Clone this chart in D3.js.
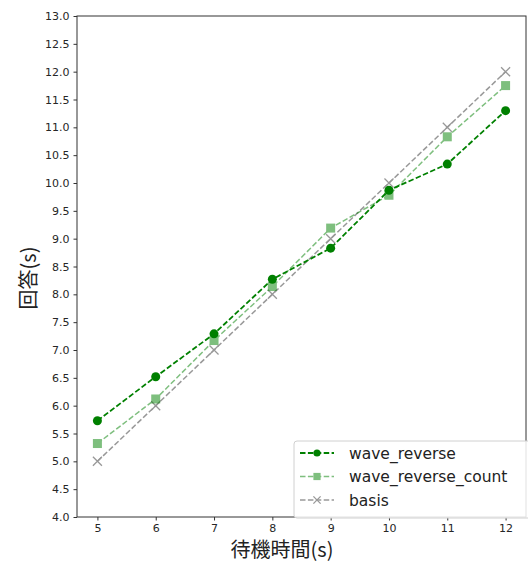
<!DOCTYPE html>
<html>
<head>
<meta charset="utf-8">
<script src="https://cdn.jsdelivr.net/npm/d3@7"></script>
<style>
  body { margin: 0; background: #fff; }
  svg { display: block; }
  .tick text { font-family: "DejaVu Sans", sans-serif; font-size: 11px; fill: #262626; }
  .tick line { stroke: #333; }
</style>
</head>
<body>
<div id="chart"></div>
<script>
// data
var waits = [5, 6, 7, 8, 9, 10, 11, 12];
var waveReverse = [5.73, 6.52, 7.29, 8.27, 8.83, 9.87, 10.34, 11.30];
var waveReverseCount = [5.32, 6.12, 7.17, 8.14, 9.19, 9.78, 10.83, 11.75];
var basis = [5, 6, 7, 8, 9, 10, 11, 12];
var yTicks = [4.0, 4.5, 5.0, 5.5, 6.0, 6.5, 7.0, 7.5, 8.0, 8.5, 9.0, 9.5, 10.0, 10.5, 11.0, 11.5, 12.0, 12.5, 13.0];
var seriesNames = ["wave_reverse", "wave_reverse_count", "basis"];

var width = 528, height = 563;
var plotLeft = 77, plotRight = 526, plotTop = 16, plotBottom = 517;

var svg = d3.select("#chart").append("svg")
    .attr("width", width)
    .attr("height", height);

var x = d3.scaleLinear().domain([4.65, 12.35]).range([plotLeft, plotRight]);
var y = d3.scaleLinear().domain([4, 13]).range([plotBottom, plotTop]);

// axes
svg.append("g")
    .attr("transform", "translate(0," + plotBottom + ")")
    .call(d3.axisBottom(x).tickValues(waits).tickSize(3.5).tickPadding(4).tickFormat(d3.format("d")))
    .call(function(g) { g.select(".domain").remove(); });

svg.append("g")
    .attr("transform", "translate(" + plotLeft + ",0)")
    .call(d3.axisLeft(y).tickValues(yTicks).tickSize(3.5).tickPadding(4).tickFormat(d3.format(".1f")))
    .call(function(g) { g.select(".domain").remove(); });

// frame
svg.append("rect")
    .attr("x", plotLeft).attr("y", plotTop)
    .attr("width", plotRight - plotLeft).attr("height", plotBottom - plotTop)
    .attr("fill", "none").attr("stroke", "#333").attr("stroke-width", 1);

var series = [
  { name: seriesNames[0], values: waveReverse, color: "#008000", opacity: 1, marker: "circle", width: 1.8 },
  { name: seriesNames[1], values: waveReverseCount, color: "#008000", opacity: 0.5, marker: "square", width: 1.5 },
  { name: seriesNames[2], values: basis, color: "#555555", opacity: 0.6, marker: "x", width: 1.5 }
];

var line = d3.line()
    .x(function(d) { return x(d[0]); })
    .y(function(d) { return y(d[1]); });

function marker(g, kind, cx, cy, color, scale) {
  scale = scale || 1;
  if (kind === "circle") {
    g.append("circle").attr("cx", cx).attr("cy", cy).attr("r", 4.5 * scale).attr("fill", color);
  } else if (kind === "square") {
    var h = 4.5 * scale;
    g.append("rect").attr("x", cx - h).attr("y", cy - h).attr("width", 2 * h).attr("height", 2 * h).attr("fill", color);
  } else {
    var k = 4.5 * scale;
    g.append("path")
      .attr("d", "M" + (cx - k) + "," + (cy - k) + "L" + (cx + k) + "," + (cy + k) +
                 "M" + (cx - k) + "," + (cy + k) + "L" + (cx + k) + "," + (cy - k))
      .attr("stroke", color).attr("stroke-width", 1.3).attr("fill", "none");
  }
}

// draw basis first so greens sit on top
series.slice().reverse().forEach(function(s) {
  var g = svg.append("g").attr("opacity", s.opacity);
  var pts = waits.map(function(w, i) { return [w, s.values[i]]; });
  g.append("path")
    .datum(pts)
    .attr("d", line)
    .attr("fill", "none")
    .attr("stroke", s.color)
    .attr("stroke-width", s.width)
    .attr("stroke-dasharray", "5.5,2.4");
  pts.forEach(function(p) {
    marker(g, s.marker, x(p[0]), y(p[1]), s.color);
  });
});

// legend
var lg = svg.append("g");
lg.append("rect")
    .attr("x", 294).attr("y", 441)
    .attr("width", 240).attr("height", 77)
    .attr("rx", 3)
    .attr("fill", "#fff").attr("fill-opacity", 0.85)
    .attr("stroke", "#d0d0d0");

series.forEach(function(s, i) {
  var ry = 453 + i * 23.5;
  var g = lg.append("g").attr("opacity", s.opacity);
  g.append("line")
    .attr("x1", 300).attr("x2", 334).attr("y1", ry).attr("y2", ry)
    .attr("stroke", s.color).attr("stroke-width", s.width)
    .attr("stroke-dasharray", "5.5,2.4");
  marker(g, s.marker, 317, ry, s.color, 0.8);
  lg.append("text")
    .attr("x", 349).attr("y", ry + 5.5)
    .attr("font-family", "DejaVu Sans, sans-serif")
    .attr("font-size", 15.5)
    .attr("fill", "#222")
    .text(s.name);
});

// axis labels
svg.append("text")
    .attr("x", 282).attr("y", 557)
    .attr("text-anchor", "middle")
    .attr("font-family", "Noto Sans CJK JP, sans-serif")
    .attr("font-size", 20)
    .attr("fill", "#222")
    .text("待機時間(s)");

svg.append("text")
    .attr("transform", "translate(36,278) rotate(-90)")
    .attr("text-anchor", "middle")
    .attr("font-family", "Noto Sans CJK JP, sans-serif")
    .attr("font-size", 20)
    .attr("fill", "#222")
    .text("回答(s)");
</script>
</body>
</html>
